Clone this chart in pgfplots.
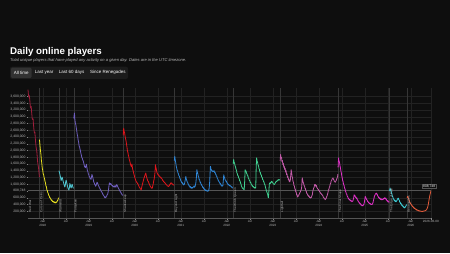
\documentclass[border=0pt]{standalone}
\usepackage{fontspec}
\setmainfont{Liberation Sans}
\usepackage{pgfplots}
\pgfplotsset{compat=1.18}
\definecolor{bg}{HTML}{0E0E0E}
\definecolor{btnbox}{HTML}{1B1B1B}
\definecolor{btnsel}{HTML}{323232}
\definecolor{subt}{HTML}{B8B8B8}
\definecolor{gridc}{HTML}{222222}
\definecolor{axisc}{HTML}{555555}
\definecolor{tickc}{HTML}{888888}
\definecolor{tickl}{HTML}{B5B5B5}
\definecolor{evc}{HTML}{363636}
\definecolor{cRW}{HTML}{A01E3C}
\definecolor{cCO}{HTML}{E8E020}
\definecolor{cWM}{HTML}{4FC4CF}
\definecolor{cFS}{HTML}{6F5FC0}
\definecolor{cSK}{HTML}{E0151B}
\definecolor{cBL}{HTML}{2F86D6}
\definecolor{cWQ}{HTML}{40D090}
\definecolor{cLF}{HTML}{C25AA8}
\definecolor{cTFS}{HTML}{E030C8}
\definecolor{cEF}{HTML}{3FCFD8}
\definecolor{cRN}{HTML}{E05A3A}
\begin{document}
\begin{tikzpicture}[x=1bp,y=1bp,
  evl/.style={draw=evc, line width=0.45bp},
  evlab/.style={rotate=90, anchor=north west, font=\fontsize{3.1}{3.5}\selectfont, text=tickl, inner sep=0.5bp}]
\fill[bg] (0,0) rectangle (450,253);
\node[anchor=base west, inner sep=0, text=white, font=\bfseries\fontsize{9.8}{11}\selectfont] at (10,198.5) {Daily online players};
\node[anchor=base west, inner sep=0, text=subt, font=\itshape\fontsize{4.1}{5}\selectfont] at (10,191.5) {Total unique players that have played any activity on a given day. Dates are in the UTC timezone.};
\fill[btnbox, rounded corners=2] (10,174) rectangle (128,186.3);
\fill[btnsel, rounded corners=1.5] (10.8,174.8) rectangle (31.7,185.5);
\node[inner sep=0, text=white, font=\fontsize{4.5}{5}\selectfont] at (21.2,180.2) {All time};
\node[inner sep=0, text=white, font=\fontsize{4.5}{5}\selectfont] at (44.2,180.2) {Last year};
\node[inner sep=0, text=white, font=\fontsize{4.5}{5}\selectfont] at (71.7,180.2) {Last 60 days};
\node[inner sep=0, text=white, font=\fontsize{4.5}{5}\selectfont] at (107.9,180.2) {Since Renegades};
\begin{axis}[
  at={(28bp,35bp)}, anchor=south west,
  scale only axis, width=403bp, height=130bp,
  xmin=2017.68, xmax=2026.44, ymin=0, ymax=3850,
  clip=false,
  axis x line*=bottom, axis y line*=left,
  x axis line style={draw=axisc, line width=0.4bp},
  y axis line style={draw=none},
  xtick={2018,2018.5,2019,2019.5,2020,2020.5,2021,2021.5,2022,2022.5,2023,2023.5,2024,2024.5,2025,2025.5,2026,2026.437},
  xticklabels={{Jan\\2018},Jul,{Jan\\2019},Jul,{Jan\\2020},Jul,{Jan\\2021},Jul,{Jan\\2022},Jul,{Jan\\2023},Jul,{Jan\\2024},Jul,{Jan\\2025},Jul,{Jan\\2026},{2026-06-09}},
  ytick={200,400,600,808.748,1000,1200,1400,1600,1800,2000,2200,2400,2600,2800,3000,3200,3400,3600},
  yticklabels={{200,000},{400,000},{600,000},{808,748},{1,000,000},{1,200,000},{1,400,000},{1,600,000},{1,800,000},{2,000,000},{2,200,000},{2,400,000},{2,600,000},{2,800,000},{3,000,000},{3,200,000},{3,400,000},{3,600,000}},
  tick align=outside, major tick length=1.5bp,
  tick style={draw=tickc, line width=0.3bp},
  xticklabel style={font=\fontsize{3.1}{3.5}\selectfont, text=tickl, align=center, inner sep=0.8bp},
  yticklabel style={font=\fontsize{3.4}{4}\selectfont, text=tickl, inner sep=0.8bp},
  grid=major, major grid style={draw=gridc, line width=0.4bp},
  every axis plot/.append style={line width=0.8bp, mark=none, line join=round},
]
% event lines
\addplot[evl] coordinates {(2017.926,0)(2017.926,3850)};
\addplot[evl] coordinates {(2018.348,0)(2018.348,3850)};
\addplot[evl] coordinates {(2018.674,0)(2018.674,3850)};
\addplot[evl] coordinates {(2019.748,0)(2019.748,3850)};
\addplot[evl] coordinates {(2020.859,0)(2020.859,3850)};
\addplot[evl] coordinates {(2022.142,0)(2022.142,3850)};
\addplot[evl] coordinates {(2023.159,0)(2023.159,3850)};
\addplot[evl] coordinates {(2024.424,0)(2024.424,3850)};
\addplot[evl] coordinates {(2025.537,0)(2025.537,3850)};
\addplot[evl] coordinates {(2025.918,0)(2025.918,3850)};
\addplot[draw=axisc, line width=0.4bp] coordinates {(2017.68,808.748)(2026.44,808.748)};
% Red War
\addplot[cRW] coordinates {(2017.680,3800)(2017.690,3640)(2017.700,3580)(2017.710,3620)(2017.720,3480)(2017.730,3300)(2017.740,3260)(2017.750,3300)(2017.760,3120)(2017.770,2960)(2017.780,2920)(2017.790,2940)(2017.800,2760)(2017.810,2600)(2017.820,2520)(2017.830,2540)(2017.840,2340)(2017.850,2180)(2017.860,2060)(2017.870,2000)(2017.880,1820)(2017.890,1660)(2017.900,1560)(2017.910,1480)(2017.920,1320)(2017.928,1220)};
% Curse of Osiris
\addplot[cCO] coordinates {(2017.930,2320)(2017.940,2160)(2017.950,2010)(2017.960,1900)(2017.970,1720)(2017.980,1620)(2017.990,1470)(2018.000,1420)(2018.010,1310)(2018.020,1280)(2018.030,1200)(2018.040,1160)(2018.050,1080)(2018.060,1040)(2018.070,950)(2018.080,920)(2018.090,840)(2018.100,810)(2018.110,750)(2018.120,730)(2018.130,670)(2018.140,660)(2018.150,610)(2018.160,600)(2018.170,560)(2018.180,560)(2018.190,520)(2018.200,530)(2018.210,490)(2018.220,500)(2018.230,470)(2018.240,485)(2018.250,460)(2018.260,475)(2018.270,445)(2018.280,470)(2018.290,450)(2018.300,480)(2018.310,475)(2018.320,520)(2018.330,530)(2018.340,580)(2018.347,600)};
% Warmind
\addplot[cWM] coordinates {(2018.350,1400)(2018.360,1370)(2018.370,1310)(2018.380,1250)(2018.390,1180)(2018.400,1110)(2018.410,1160)(2018.420,1210)(2018.430,1170)(2018.440,1110)(2018.450,1060)(2018.460,1010)(2018.470,960)(2018.480,920)(2018.490,960)(2018.500,1080)(2018.510,1120)(2018.520,1060)(2018.530,990)(2018.540,940)(2018.550,880)(2018.560,850)(2018.570,830)(2018.580,900)(2018.590,1020)(2018.600,980)(2018.610,910)(2018.620,890)(2018.630,960)(2018.640,1000)(2018.650,940)(2018.660,900)(2018.670,880)};
% Forsaken
\addplot[cFS] coordinates {(2018.675,2950)(2018.690,3110)(2018.700,2900)(2018.710,2810)(2018.720,2760)(2018.730,2660)(2018.740,2580)(2018.750,2470)(2018.760,2420)(2018.770,2310)(2018.780,2250)(2018.790,2140)(2018.800,2110)(2018.810,2040)(2018.820,1990)(2018.830,1910)(2018.840,1860)(2018.850,1790)(2018.860,1770)(2018.870,1720)(2018.880,1690)(2018.890,1640)(2018.900,1580)(2018.910,1510)(2018.920,1530)(2018.930,1490)(2018.940,1540)(2018.950,1590)(2018.960,1500)(2018.970,1410)(2018.980,1380)(2018.990,1310)(2019.000,1290)(2019.010,1230)(2019.020,1220)(2019.030,1170)(2019.040,1170)(2019.050,1140)(2019.060,1210)(2019.070,1290)(2019.080,1250)(2019.090,1190)(2019.100,1130)(2019.110,1060)(2019.120,1040)(2019.130,990)(2019.140,980)(2019.150,940)(2019.160,970)(2019.170,1010)(2019.180,1060)(2019.190,1040)(2019.200,1000)(2019.210,960)(2019.220,940)(2019.230,900)(2019.240,880)(2019.250,850)(2019.260,830)(2019.270,790)(2019.280,780)(2019.290,750)(2019.300,730)(2019.310,690)(2019.320,680)(2019.330,650)(2019.340,640)(2019.350,600)(2019.360,620)(2019.370,600)(2019.380,640)(2019.390,650)(2019.400,690)(2019.410,700)(2019.420,760)(2019.430,830)(2019.440,960)(2019.450,1040)(2019.460,1010)(2019.470,990)(2019.480,1020)(2019.490,1000)(2019.500,970)(2019.510,950)(2019.520,960)(2019.530,930)(2019.540,940)(2019.550,910)(2019.560,930)(2019.570,960)(2019.580,940)(2019.590,910)(2019.600,960)(2019.610,990)(2019.620,960)(2019.630,930)(2019.640,900)(2019.650,870)(2019.660,850)(2019.670,810)(2019.680,800)(2019.690,770)(2019.700,760)(2019.710,720)(2019.720,710)(2019.730,680)(2019.745,670)};
% Shadowkeep
\addplot[cSK] coordinates {(2019.750,2450)(2019.760,2660)(2019.770,2560)(2019.780,2520)(2019.790,2420)(2019.800,2350)(2019.810,2290)(2019.820,2200)(2019.830,2110)(2019.840,2000)(2019.850,1950)(2019.860,1870)(2019.870,1820)(2019.880,1740)(2019.890,1700)(2019.900,1640)(2019.910,1580)(2019.920,1540)(2019.930,1520)(2019.940,1600)(2019.950,1480)(2019.960,1420)(2019.970,1370)(2019.980,1310)(2019.990,1260)(2020.000,1210)(2020.010,1160)(2020.020,1120)(2020.030,1090)(2020.040,1060)(2020.050,1050)(2020.060,1020)(2020.070,1010)(2020.080,970)(2020.090,950)(2020.100,910)(2020.110,900)(2020.120,860)(2020.130,860)(2020.140,830)(2020.150,900)(2020.160,960)(2020.170,1010)(2020.180,1070)(2020.190,1120)(2020.200,1180)(2020.210,1210)(2020.220,1260)(2020.230,1290)(2020.240,1330)(2020.250,1260)(2020.260,1200)(2020.270,1160)(2020.280,1110)(2020.290,1090)(2020.300,1070)(2020.310,1020)(2020.320,1000)(2020.330,960)(2020.340,940)(2020.350,910)(2020.360,900)(2020.370,880)(2020.380,880)(2020.390,940)(2020.400,1000)(2020.410,1080)(2020.420,1140)(2020.430,1230)(2020.440,1350)(2020.450,1580)(2020.460,1500)(2020.470,1440)(2020.480,1360)(2020.490,1320)(2020.500,1300)(2020.510,1270)(2020.520,1280)(2020.530,1240)(2020.540,1240)(2020.550,1210)(2020.560,1210)(2020.570,1180)(2020.580,1190)(2020.590,1160)(2020.600,1140)(2020.610,1110)(2020.620,1100)(2020.630,1070)(2020.640,1070)(2020.650,1040)(2020.660,1040)(2020.670,1010)(2020.680,1000)(2020.690,980)(2020.700,970)(2020.710,950)(2020.720,950)(2020.730,930)(2020.740,950)(2020.750,950)(2020.760,990)(2020.770,990)(2020.780,1040)(2020.790,1030)(2020.800,1040)(2020.810,1010)(2020.820,1010)(2020.830,980)(2020.840,990)(2020.855,970)};
% Beyond Light
\addplot[cBL] coordinates {(2020.860,1700)(2020.870,1830)(2020.880,1720)(2020.890,1650)(2020.900,1550)(2020.910,1490)(2020.920,1420)(2020.930,1400)(2020.940,1330)(2020.950,1310)(2020.960,1250)(2020.970,1240)(2020.980,1180)(2020.990,1160)(2021.000,1100)(2021.010,1090)(2021.020,1050)(2021.030,1060)(2021.040,1010)(2021.050,1020)(2021.060,980)(2021.070,990)(2021.080,1000)(2021.090,1070)(2021.100,1150)(2021.110,1230)(2021.120,1160)(2021.130,1120)(2021.140,1070)(2021.150,1060)(2021.160,1000)(2021.170,1000)(2021.180,950)(2021.190,950)(2021.200,910)(2021.210,930)(2021.220,890)(2021.230,910)(2021.240,880)(2021.250,900)(2021.260,890)(2021.270,920)(2021.280,920)(2021.290,950)(2021.300,910)(2021.310,930)(2021.320,980)(2021.330,1060)(2021.340,1200)(2021.350,1430)(2021.360,1360)(2021.370,1320)(2021.380,1240)(2021.390,1210)(2021.400,1140)(2021.410,1130)(2021.420,1060)(2021.430,1060)(2021.440,1000)(2021.450,1000)(2021.460,950)(2021.470,950)(2021.480,900)(2021.490,910)(2021.500,860)(2021.510,870)(2021.520,830)(2021.530,840)(2021.540,810)(2021.550,830)(2021.560,800)(2021.570,810)(2021.580,790)(2021.590,800)(2021.600,800)(2021.610,830)(2021.620,900)(2021.630,1100)(2021.645,1530)(2021.655,1460)(2021.665,1430)(2021.675,1390)(2021.685,1400)(2021.695,1370)(2021.705,1390)(2021.715,1380)(2021.725,1400)(2021.735,1350)(2021.745,1360)(2021.755,1300)(2021.765,1290)(2021.775,1240)(2021.785,1230)(2021.795,1170)(2021.805,1160)(2021.815,1110)(2021.825,1100)(2021.835,1060)(2021.845,1060)(2021.855,1010)(2021.865,1020)(2021.875,970)(2021.885,980)(2021.895,940)(2021.905,950)(2021.915,960)(2021.925,1100)(2021.935,1280)(2021.945,1210)(2021.955,1190)(2021.965,1130)(2021.975,1120)(2021.985,1080)(2021.995,1090)(2022.005,1030)(2022.015,1040)(2022.025,990)(2022.035,1000)(2022.045,970)(2022.055,980)(2022.065,950)(2022.075,960)(2022.085,940)(2022.095,940)(2022.105,910)(2022.115,920)(2022.125,890)(2022.135,890)};
% The Witch Queen
\addplot[cWQ] coordinates {(2022.140,1600)(2022.150,1730)(2022.160,1650)(2022.170,1620)(2022.180,1550)(2022.190,1520)(2022.200,1450)(2022.210,1420)(2022.220,1340)(2022.230,1310)(2022.240,1250)(2022.250,1250)(2022.260,1180)(2022.270,1170)(2022.280,1100)(2022.290,1100)(2022.300,1030)(2022.310,1010)(2022.320,940)(2022.330,920)(2022.340,880)(2022.350,890)(2022.360,850)(2022.370,860)(2022.380,840)(2022.390,1100)(2022.400,1430)(2022.410,1380)(2022.420,1390)(2022.430,1320)(2022.440,1310)(2022.450,1250)(2022.460,1250)(2022.470,1180)(2022.480,1170)(2022.490,1110)(2022.500,1110)(2022.510,1050)(2022.520,1060)(2022.530,1000)(2022.540,1000)(2022.550,950)(2022.560,960)(2022.570,920)(2022.580,930)(2022.590,900)(2022.600,910)(2022.610,880)(2022.620,900)(2022.630,890)(2022.640,1500)(2022.650,1780)(2022.660,1680)(2022.670,1650)(2022.680,1570)(2022.690,1550)(2022.700,1460)(2022.710,1440)(2022.720,1360)(2022.730,1350)(2022.740,1280)(2022.750,1280)(2022.760,1210)(2022.770,1210)(2022.780,1140)(2022.790,1130)(2022.800,1070)(2022.810,1070)(2022.820,1000)(2022.830,990)(2022.840,920)(2022.850,870)(2022.860,820)(2022.870,780)(2022.880,740)(2022.890,700)(2022.900,620)(2022.905,600)(2022.915,780)(2022.925,1000)(2022.935,1040)(2022.945,1020)(2022.955,1060)(2022.965,1050)(2022.975,1090)(2022.985,1070)(2022.995,1060)(2023.005,1030)(2023.015,1010)(2023.025,1000)(2023.035,990)(2023.045,1010)(2023.055,1040)(2023.065,1060)(2023.075,1090)(2023.085,1080)(2023.095,1100)(2023.105,1110)(2023.115,1130)(2023.125,1120)(2023.135,1140)(2023.145,1130)(2023.155,1120)};
% Lightfall
\addplot[cLF] coordinates {(2023.160,1700)(2023.170,1880)(2023.180,1770)(2023.190,1800)(2023.200,1670)(2023.210,1700)(2023.220,1580)(2023.230,1620)(2023.240,1500)(2023.250,1540)(2023.260,1430)(2023.270,1470)(2023.280,1360)(2023.290,1400)(2023.300,1280)(2023.310,1310)(2023.320,1200)(2023.330,1230)(2023.340,1130)(2023.350,1160)(2023.360,1070)(2023.370,1110)(2023.380,1090)(2023.390,1250)(2023.400,1430)(2023.410,1350)(2023.420,1230)(2023.430,1190)(2023.440,1080)(2023.450,1060)(2023.460,960)(2023.470,950)(2023.480,860)(2023.490,860)(2023.500,770)(2023.510,770)(2023.520,680)(2023.530,690)(2023.540,620)(2023.550,650)(2023.560,650)(2023.570,700)(2023.580,710)(2023.590,760)(2023.600,770)(2023.610,820)(2023.620,840)(2023.630,930)(2023.640,1190)(2023.650,1130)(2023.660,1060)(2023.670,1030)(2023.680,960)(2023.690,950)(2023.700,880)(2023.710,870)(2023.720,800)(2023.730,790)(2023.740,720)(2023.750,720)(2023.760,670)(2023.770,680)(2023.780,640)(2023.790,650)(2023.800,610)(2023.810,620)(2023.820,590)(2023.830,610)(2023.840,610)(2023.850,660)(2023.860,690)(2023.870,790)(2023.880,840)(2023.890,890)(2023.900,910)(2023.910,990)(2023.920,960)(2023.930,990)(2023.940,930)(2023.950,960)(2023.960,890)(2023.970,890)(2023.980,850)(2023.990,850)(2024.000,810)(2024.010,810)(2024.020,770)(2024.030,770)(2024.040,730)(2024.050,730)(2024.060,700)(2024.070,700)(2024.080,660)(2024.090,660)(2024.100,610)(2024.110,610)(2024.120,570)(2024.130,570)(2024.140,540)(2024.150,570)(2024.160,580)(2024.170,630)(2024.180,650)(2024.190,710)(2024.200,750)(2024.210,830)(2024.220,850)(2024.230,910)(2024.240,940)(2024.250,1010)(2024.260,1030)(2024.270,1100)(2024.280,1110)(2024.290,1160)(2024.300,1160)(2024.310,1190)(2024.320,1140)(2024.330,1130)(2024.340,1080)(2024.350,1070)(2024.360,1060)(2024.370,1090)(2024.380,1110)(2024.390,1160)(2024.400,1180)(2024.410,1240)(2024.415,1300)};
% The Final Shape
\addplot[cTFS] coordinates {(2024.420,1500)(2024.430,1780)(2024.440,1680)(2024.450,1660)(2024.460,1560)(2024.470,1490)(2024.480,1400)(2024.490,1340)(2024.500,1250)(2024.510,1190)(2024.520,1110)(2024.530,1070)(2024.540,990)(2024.550,970)(2024.560,890)(2024.570,870)(2024.580,790)(2024.590,770)(2024.600,710)(2024.610,700)(2024.620,640)(2024.630,630)(2024.640,580)(2024.650,580)(2024.660,540)(2024.670,550)(2024.680,520)(2024.690,530)(2024.700,500)(2024.710,510)(2024.720,480)(2024.730,500)(2024.740,500)(2024.750,550)(2024.760,600)(2024.770,690)(2024.780,650)(2024.790,660)(2024.800,610)(2024.810,620)(2024.820,570)(2024.830,590)(2024.840,530)(2024.850,530)(2024.860,480)(2024.870,480)(2024.880,440)(2024.890,450)(2024.900,410)(2024.910,420)(2024.920,380)(2024.930,390)(2024.940,360)(2024.950,370)(2024.960,360)(2024.970,390)(2024.980,400)(2024.990,460)(2025.000,540)(2025.010,640)(2025.020,600)(2025.030,590)(2025.040,540)(2025.050,540)(2025.060,490)(2025.070,490)(2025.080,450)(2025.090,460)(2025.100,430)(2025.110,440)(2025.120,410)(2025.130,420)(2025.140,400)(2025.150,410)(2025.160,400)(2025.170,430)(2025.180,460)(2025.190,530)(2025.200,580)(2025.210,650)(2025.220,670)(2025.230,710)(2025.240,720)(2025.250,740)(2025.260,700)(2025.270,710)(2025.280,650)(2025.290,650)(2025.300,600)(2025.310,610)(2025.320,570)(2025.330,590)(2025.340,550)(2025.350,570)(2025.360,540)(2025.370,560)(2025.380,540)(2025.390,560)(2025.400,550)(2025.410,580)(2025.420,570)(2025.430,600)(2025.440,580)(2025.450,590)(2025.460,550)(2025.470,560)(2025.480,510)(2025.490,520)(2025.500,480)(2025.510,500)(2025.520,470)(2025.535,480)};
% The Edge of Fate
\addplot[cEF] coordinates {(2025.540,800)(2025.550,890)(2025.560,830)(2025.570,810)(2025.580,740)(2025.590,710)(2025.600,640)(2025.610,630)(2025.620,560)(2025.630,560)(2025.640,520)(2025.650,530)(2025.660,490)(2025.670,510)(2025.680,480)(2025.690,500)(2025.700,520)(2025.710,570)(2025.720,560)(2025.730,590)(2025.740,540)(2025.750,530)(2025.760,470)(2025.770,470)(2025.780,420)(2025.790,430)(2025.800,380)(2025.810,390)(2025.820,350)(2025.830,360)(2025.840,320)(2025.850,330)(2025.860,300)(2025.870,310)(2025.880,320)(2025.890,350)(2025.900,370)(2025.915,400)};
% Renegades
\addplot[cRN] coordinates {(2025.920,600)(2025.930,640)(2025.940,600)(2025.950,590)(2025.960,530)(2025.970,510)(2025.980,460)(2025.990,450)(2026.000,410)(2026.010,410)(2026.020,370)(2026.030,370)(2026.040,330)(2026.050,340)(2026.060,300)(2026.070,310)(2026.080,280)(2026.090,290)(2026.100,260)(2026.110,270)(2026.120,240)(2026.130,250)(2026.140,230)(2026.150,240)(2026.160,215)(2026.170,225)(2026.180,205)(2026.190,215)(2026.200,200)(2026.210,210)(2026.220,195)(2026.230,205)(2026.240,190)(2026.250,200)(2026.260,195)(2026.270,205)(2026.280,200)(2026.290,210)(2026.300,205)(2026.310,220)(2026.320,215)(2026.330,235)(2026.340,240)(2026.350,270)(2026.360,290)(2026.370,340)(2026.380,400)(2026.390,480)(2026.400,560)(2026.410,640)(2026.420,700)(2026.430,760)(2026.437,808.748)};
% event labels
\node[evlab] at (axis cs:2017.682,150) {Red War};
\node[evlab] at (axis cs:2017.926,150) {Curse of Osiris};
\node[evlab] at (axis cs:2018.348,150) {Warmind};
\node[evlab] at (axis cs:2018.674,150) {Forsaken};
\node[evlab] at (axis cs:2019.748,150) {Shadowkeep};
\node[evlab] at (axis cs:2020.859,150) {Beyond Light};
\node[evlab] at (axis cs:2022.142,150) {The Witch Queen};
\node[evlab] at (axis cs:2023.159,150) {Lightfall};
\node[evlab] at (axis cs:2024.424,150) {The Final Shape};
\node[evlab] at (axis cs:2025.537,150) {The Edge of Fate};
\node[evlab] at (axis cs:2025.918,150) {Renegades};
\node[anchor=south, font=\fontsize{3.3}{4}\selectfont, text=white, fill=bg, draw=axisc, line width=0.25bp, inner sep=0.7bp] at (axis cs:2026.40,880) {808,748};
\end{axis}
\pgfresetboundingbox
\useasboundingbox (0,0) rectangle (450,253);
\end{tikzpicture}
\end{document}
